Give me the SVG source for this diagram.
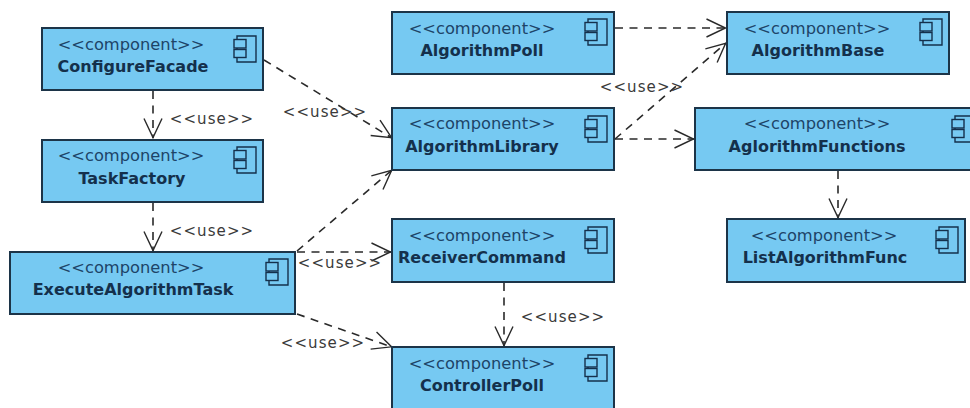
<svg xmlns="http://www.w3.org/2000/svg" width="970" height="408" viewBox="0 0 970 408">
<style>
.box{fill:#76c9f2;stroke:#1c3448;stroke-width:2}
.st{font-family:"DejaVu Sans",sans-serif;font-size:16.300px;fill:#1d4468;text-anchor:middle}
.nm{font-family:"DejaVu Sans",sans-serif;font-size:16px;font-weight:bold;fill:#14304c;text-anchor:middle}
.ic{fill:none;stroke:#14304c;stroke-width:1.4}
.is{fill:#76c9f2;stroke:#14304c;stroke-width:1.4}
.c{fill:none;stroke:#2a2a2a;stroke-width:1.6;stroke-dasharray:8 6.500;marker-end:url(#a)}
.u{font-family:"DejaVu Sans",sans-serif;font-size:15px;fill:#3a3a3a;letter-spacing:1.100px;text-anchor:middle}
</style>
<defs>
<marker id="a" markerUnits="userSpaceOnUse" markerWidth="22" markerHeight="22" refX="20.500" refY="11" orient="auto"><path d="M1 2L20 11L1 20" fill="none" stroke="#2a2a2a" stroke-width="1.400" stroke-dasharray="none"/></marker>
<g id="icon"><path class="ic" d="M3 0H22V26H3Z"/><rect class="is" x="0" y="3.500" width="12" height="8.500"/><rect class="is" x="0" y="13.500" width="12" height="8"/></g>
</defs>
<rect width="970" height="408" fill="#fff"/>
<g id="connectors">
<path class="c" d="M264 60L392 138"/>
<path class="c" d="M153 91V138"/>
<path class="c" d="M153 203V251"/>
<path class="c" d="M297 251L392 170"/>
<path class="c" d="M297 252H391"/>
<path class="c" d="M297 314L392 347"/>
<path class="c" d="M504 283V346"/>
<path class="c" d="M615 28H726"/>
<path class="c" d="M615 139L726 43"/>
<path class="c" d="M615 139H694"/>
<path class="c" d="M838 171V218"/>
</g>
<g id="labels">
<text class="u" x="212" y="124">&lt;&lt;use&gt;&gt;</text>
<text class="u" x="325" y="117">&lt;&lt;use&gt;&gt;</text>
<text class="u" x="212" y="236">&lt;&lt;use&gt;&gt;</text>
<text class="u" x="340" y="268">&lt;&lt;use&gt;&gt;</text>
<text class="u" x="323" y="348">&lt;&lt;use&gt;&gt;</text>
<text class="u" x="642" y="92">&lt;&lt;use&gt;&gt;</text>
<text class="u" x="563" y="322">&lt;&lt;use&gt;&gt;</text>
</g>
<g id="ConfigureFacade"><rect class="box" x="42" y="28" width="221" height="62"/><text class="st" x="131" y="50">&lt;&lt;component&gt;&gt;</text><text class="nm" x="133" y="72">ConfigureFacade</text><use href="#icon" x="234" y="36"/></g>
<g id="TaskFactory"><rect class="box" x="42" y="140" width="221" height="62"/><text class="st" x="131" y="161">&lt;&lt;component&gt;&gt;</text><text class="nm" x="132" y="184">TaskFactory</text><use href="#icon" x="234" y="147"/></g>
<g id="ExecuteAlgorithmTask"><rect class="box" x="10" y="252" width="285" height="62"/><text class="st" x="131" y="273">&lt;&lt;component&gt;&gt;</text><text class="nm" x="133" y="295">ExecuteAlgorithmTask</text><use href="#icon" x="266" y="259"/></g>
<g id="AlgorithmPoll"><rect class="box" x="392" y="12" width="222" height="62"/><text class="st" x="482" y="34">&lt;&lt;component&gt;&gt;</text><text class="nm" x="482" y="56">AlgorithmPoll</text><use href="#icon" x="585" y="19"/></g>
<g id="AlgorithmLibrary"><rect class="box" x="392" y="108" width="222" height="62"/><text class="st" x="482" y="129">&lt;&lt;component&gt;&gt;</text><text class="nm" x="482" y="152">AlgorithmLibrary</text><use href="#icon" x="585" y="116"/></g>
<g id="ReceiverCommand"><rect class="box" x="392" y="219" width="222" height="63"/><text class="st" x="482" y="241">&lt;&lt;component&gt;&gt;</text><text class="nm" x="482" y="263">ReceiverCommand</text><use href="#icon" x="585" y="227"/></g>
<g id="ControllerPoll"><rect class="box" x="392" y="347" width="222" height="70"/><text class="st" x="482" y="369">&lt;&lt;component&gt;&gt;</text><text class="nm" x="482" y="391">ControllerPoll</text><use href="#icon" x="585" y="355"/></g>
<g id="AlgorithmBase"><rect class="box" x="727" y="12" width="222" height="62"/><text class="st" x="817" y="34">&lt;&lt;component&gt;&gt;</text><text class="nm" x="818" y="56">AlgorithmBase</text><use href="#icon" x="920" y="19"/></g>
<g id="AglorithmFunctions"><rect class="box" x="695" y="108" width="285" height="62"/><text class="st" x="817" y="129">&lt;&lt;component&gt;&gt;</text><text class="nm" x="817" y="152">AglorithmFunctions</text><use href="#icon" x="952" y="116"/></g>
<g id="ListAlgorithmFunc"><rect class="box" x="727" y="219" width="238" height="63"/><text class="st" x="824" y="241">&lt;&lt;component&gt;&gt;</text><text class="nm" x="825" y="263">ListAlgorithmFunc</text><use href="#icon" x="936" y="227"/></g>
</svg>
